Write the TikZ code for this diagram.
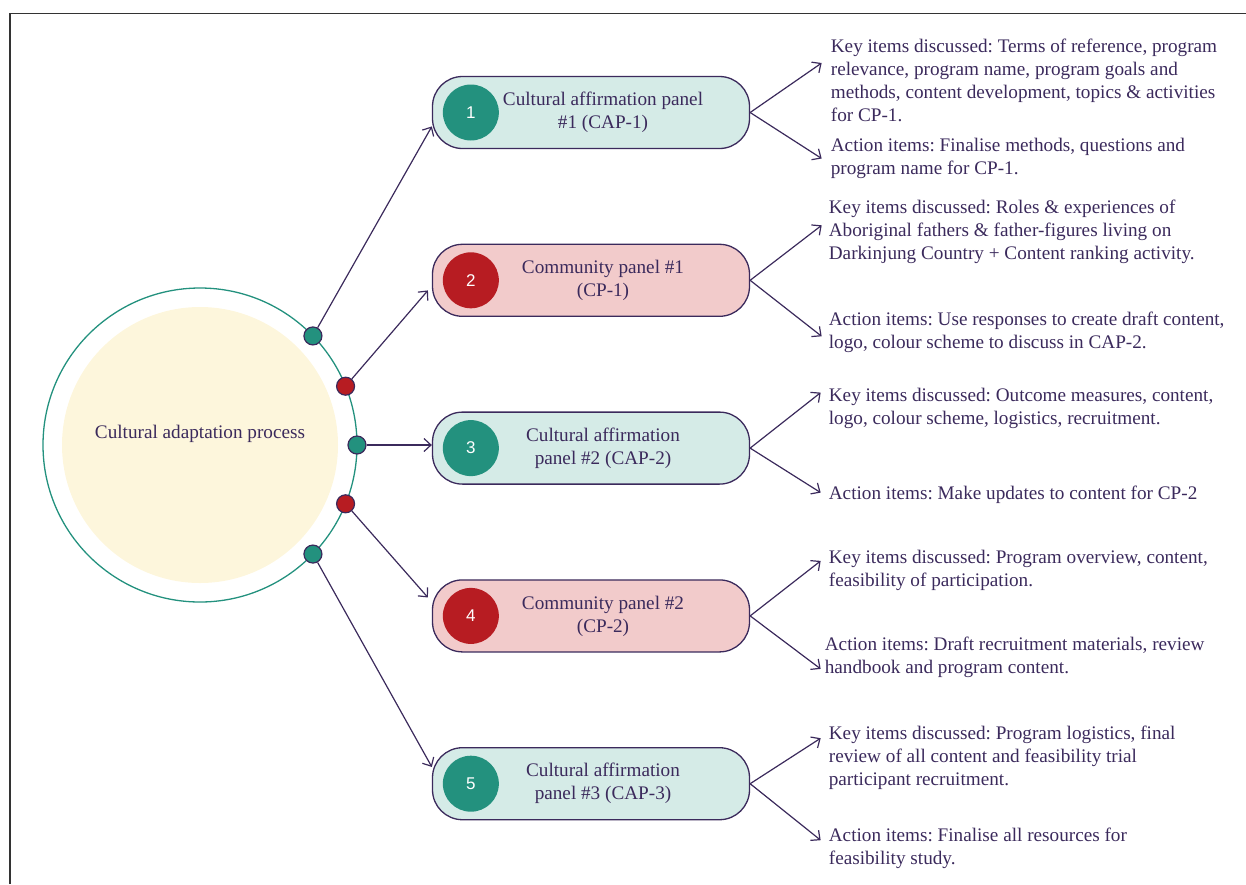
\documentclass[tikz,border=0pt]{standalone}
\usepackage{fontspec}
\setmainfont{Liberation Serif}
\newfontfamily\numfont{Liberation Sans}
\usetikzlibrary{chains,positioning,arrows.meta}
\definecolor{ink}{HTML}{3B2A5C}
\definecolor{capgreen}{HTML}{23917E}
\definecolor{cpred}{HTML}{B71C22}
\definecolor{capfill}{HTML}{D5EBE7}
\definecolor{cpfill}{HTML}{F2CBCB}
\definecolor{corefill}{HTML}{FDF6DC}
\frenchspacing
\tikzset{
>={Straight Barb[length=7pt,width=13pt]},
  panel/.style={
    rectangle,
    rounded corners=30pt,
    draw=ink, line width=1.3pt,
    minimum width=317pt,
    minimum height=72pt,
    on chain},
  cappanel/.style={panel, fill=capfill},
  cppanel/.style={panel, fill=cpfill},
  paneltext/.style={text=ink, align=center, font=\fontsize{19.2}{23}\selectfont},
  numdot/.style={circle, minimum size=56pt, inner sep=0pt, text=white,
    font=\numfont\fontsize{17}{20}\selectfont},
  ringdot/.style={circle, minimum size=18pt, inner sep=0pt, draw=ink, line width=1.2pt},
  note/.style={inner sep=0pt, text=ink, align=left, font=\fontsize{19.2}{23}\selectfont},
  link/.style={draw=ink, line width=1.2pt, ->},
}
\begin{document}
\begin{tikzpicture}[x=1pt, y=-1pt, node distance=94.5pt, start chain=going below]
     \useasboundingbox (0,0) rectangle (1246,884);
     \draw[black!80, line width=1.5pt] (10,884) -- (10,13.5) -- (1246,13.5);
     % process circle
     \node[circle, draw=capgreen, line width=1.3pt, outer sep=0pt, inner sep=0pt, minimum size=314pt] (ring) at (200,445) {};
     \node[circle, fill=corefill, inner sep=0pt, minimum size=276pt] (core) at (200,445) {};
     \node[paneltext] (coretext) at (200,434) {Cultural adaptation process};
     \foreach \a/\c [count=\i] in {44/capgreen, 22/cpred, 0/capgreen, -22/cpred, -44/capgreen}
       \node[ringdot, fill=\c] (d\i) at (ring.\a) {};
     % panels
     \node[cappanel] (p1) at (591,112.5) {};
     \node[cppanel]  (p2) {};
     \node[cappanel] (p3) {};
     \node[cppanel]  (p4) {};
     \node[cappanel] (p5) {};
     \foreach \i/\c/\t in {1/capgreen/{Cultural affirmation panel\\\#1 (CAP-1)},
                           2/cpred/{Community panel \#1\\(CP-1)},
                           3/capgreen/{Cultural affirmation\\panel \#2 (CAP-2)},
                           4/cpred/{Community panel \#2\\(CP-2)},
                           5/capgreen/{Cultural affirmation\\panel \#3 (CAP-3)}}{
       \node[numdot, fill=\c] (n\i) at ([xshift=39pt]p\i.west) {\i};
       \node[paneltext] (t\i) at ([xshift=12pt]p\i.center) {\t};
     }
     \draw[link] (d1) -- (p1.185);
     \draw[link, shorten >=6pt] (d2) -- (p2.182);
     \draw[link] (d3) -- (d3 -| p3.west);
     \draw[link, shorten >=6pt] (d4) -- (p4.175);
     \draw[link] (d5) -- (p5.174);
     % notes
     \node[note, right=80.5pt of p1, yshift=32pt] (k1) {Key items discussed: Terms of reference, program\\relevance, program name, program goals and\\methods, content development, topics \& activities\\for CP-1.};
     \node[note, right=80.5pt of p1, yshift=-46pt] (a1) {Action items: Finalise methods, questions and\\program name for CP-1.};
     \node[note, right=78.5pt of p2, yshift=48pt] (k2) {Key items discussed: Roles \& experiences of\\Aboriginal fathers \& father-figures living on\\Darkinjung Country + Content ranking activity.};
     \node[note, right=78.5pt of p2, yshift=-52.5pt] (a2) {Action items: Use responses to create draft content,\\logo, colour scheme to discuss in CAP-2.};
     \node[note, right=78.5pt of p3, yshift=39.5pt] (k3) {Key items discussed: Outcome measures, content,\\logo, colour scheme, logistics, recruitment.};
     \node[note, right=78.5pt of p3, yshift=-46.5pt] (a3) {Action items: Make updates to content for CP-2};
     \node[note, right=78.5pt of p4, yshift=45.5pt] (k4) {Key items discussed: Program overview, content,\\feasibility of participation.};
     \node[note, right=74.5pt of p4, yshift=-41.5pt] (a4) {Action items: Draft recruitment materials, review\\handbook and program content.};
     \node[note, right=78.5pt of p5, yshift=25.5pt] (k5) {Key items discussed: Program logistics, final\\review of all content and feasibility trial\\participant recruitment.};
     \node[note, right=78.5pt of p5, yshift=-65pt] (a5) {Action items: Finalise all resources for\\feasibility study.};
     \draw[link] (p1.east) -- ([xshift=-9pt,yshift=17.5pt]k1.west);
     \draw[link] (p1.east) -- ([xshift=-9pt]a1.west);
     \draw[link] (p2.east) -- ([xshift=-7pt,yshift=7pt]k2.west);
     \draw[link] (p2.east) -- ([xshift=-7pt,yshift=-3.5pt]a2.west);
     \draw[link] (p3.east) -- ([xshift=-8pt,yshift=16pt]k3.west);
     \draw[link] (p3.east) -- ([xshift=-8pt,yshift=2pt]a3.west);
     \draw[link] (p4.east) -- ([xshift=-8pt,yshift=9.5pt]k4.west);
     \draw[link] (p4.east) -- ([xshift=-4pt,yshift=-11.5pt]a4.west);
     \draw[link] (p5.east) -- ([xshift=-8pt,yshift=20pt]k5.west);
     \draw[link] (p5.east) -- ([xshift=-8pt,yshift=8.5pt]a5.west);
\end{tikzpicture}
\end{document}
